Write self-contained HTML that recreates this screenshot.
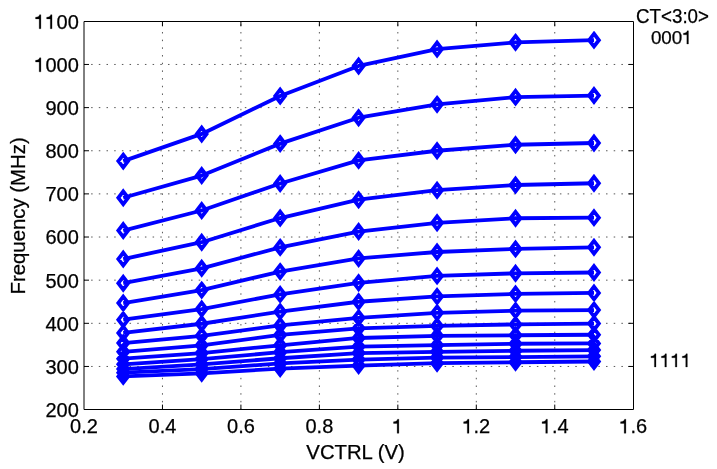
<!DOCTYPE html><html><head><meta charset="utf-8"><style>html,body{margin:0;padding:0;background:#fff;}svg{display:block;}text{font-family:"Liberation Sans",sans-serif;fill:#000;}</style></head><body>
<svg width="717" height="469" viewBox="0 0 717 469">
<rect x="0" y="0" width="717" height="469" fill="#fff"/>
<g stroke="#585858" stroke-width="1" stroke-dasharray="1.5 6.185" stroke-dashoffset="0.45" fill="none"><line x1="162.46" y1="409.60" x2="162.46" y2="21.32"/><line x1="240.92" y1="409.60" x2="240.92" y2="21.32"/><line x1="319.38" y1="409.60" x2="319.38" y2="21.32"/><line x1="397.84" y1="409.60" x2="397.84" y2="21.32"/><line x1="476.30" y1="409.60" x2="476.30" y2="21.32"/><line x1="554.76" y1="409.60" x2="554.76" y2="21.32"/></g>
<g stroke="#585858" stroke-width="1" stroke-dasharray="1.5 6.185" stroke-dashoffset="0.55" fill="none"><line x1="84.00" y1="366.46" x2="633.22" y2="366.46"/><line x1="84.00" y1="323.32" x2="633.22" y2="323.32"/><line x1="84.00" y1="280.17" x2="633.22" y2="280.17"/><line x1="84.00" y1="237.03" x2="633.22" y2="237.03"/><line x1="84.00" y1="193.89" x2="633.22" y2="193.89"/><line x1="84.00" y1="150.75" x2="633.22" y2="150.75"/><line x1="84.00" y1="107.61" x2="633.22" y2="107.61"/><line x1="84.00" y1="64.46" x2="633.22" y2="64.46"/></g>
<g fill="none" stroke="#0000ff" stroke-width="3.8" stroke-linejoin="round" stroke-linecap="butt"><polyline points="123.23,161.10 201.69,133.92 280.15,95.96 358.61,65.97 437.07,49.06 515.53,42.33 593.99,40.13"/><polyline points="123.23,197.77 201.69,175.55 280.15,143.63 358.61,117.70 437.07,104.37 515.53,97.17 593.99,95.57"/><polyline points="123.23,230.56 201.69,210.50 280.15,183.54 358.61,160.41 437.07,150.75 515.53,144.75 593.99,142.98"/><polyline points="123.23,259.03 201.69,242.21 280.15,218.05 358.61,199.67 437.07,190.22 515.53,185.00 593.99,183.23"/><polyline points="123.23,283.19 201.69,268.31 280.15,247.39 358.61,231.55 437.07,222.80 515.53,218.27 593.99,217.66"/><polyline points="123.23,303.04 201.69,290.10 280.15,271.59 358.61,258.47 437.07,252.00 515.53,248.90 593.99,247.30"/><polyline points="123.23,319.74 201.69,309.08 280.15,294.41 358.61,282.81 437.07,275.90 515.53,273.31 593.99,272.49"/><polyline points="123.23,332.94 201.69,323.75 280.15,311.67 358.61,301.75 437.07,296.44 515.53,293.89 593.99,292.90"/><polyline points="123.23,343.03 201.69,335.83 280.15,325.47 358.61,317.84 437.07,312.83 515.53,310.63 593.99,310.11"/><polyline points="123.23,351.79 201.69,345.32 280.15,334.96 358.61,328.28 437.07,325.90 515.53,324.39 593.99,323.62"/><polyline points="123.23,358.69 201.69,353.08 280.15,345.32 358.61,337.98 437.07,335.83 515.53,335.27 593.99,334.75"/><polyline points="123.23,364.30 201.69,359.12 280.15,352.22 358.61,346.61 437.07,345.15 515.53,343.77 593.99,343.38"/><polyline points="123.23,369.05 201.69,364.30 280.15,358.26 358.61,353.08 437.07,351.79 515.53,350.75 593.99,350.06"/><polyline points="123.23,372.71 201.69,369.05 280.15,363.44 358.61,359.56 437.07,357.57 515.53,357.05 593.99,356.32"/><polyline points="123.23,376.38 201.69,373.36 280.15,368.62 358.61,365.60 437.07,363.22 515.53,362.27 593.99,361.50"/></g>
<path fill="none" stroke="#0000ff" stroke-width="3.75" stroke-linejoin="miter" stroke-miterlimit="10" d="M123.23 154.73L128.13 161.10L123.23 167.48L118.33 161.10ZM201.69 127.55L206.59 133.92L201.69 140.30L196.79 133.92ZM280.15 89.58L285.05 95.96L280.15 102.33L275.25 95.96ZM358.61 59.60L363.51 65.97L358.61 72.35L353.71 65.97ZM437.07 42.69L441.97 49.06L437.07 55.44L432.17 49.06ZM515.53 35.96L520.43 42.33L515.53 48.71L510.63 42.33ZM593.99 33.76L598.89 40.13L593.99 46.51L589.09 40.13ZM123.23 191.40L128.13 197.77L123.23 204.15L118.33 197.77ZM201.69 169.18L206.59 175.55L201.69 181.93L196.79 175.55ZM280.15 137.25L285.05 143.63L280.15 150.00L275.25 143.63ZM358.61 111.33L363.51 117.70L358.61 124.08L353.71 117.70ZM437.07 98.00L441.97 104.37L437.07 110.75L432.17 104.37ZM515.53 90.79L520.43 97.17L515.53 103.54L510.63 97.17ZM593.99 89.19L598.89 95.57L593.99 101.94L589.09 95.57ZM123.23 224.19L128.13 230.56L123.23 236.94L118.33 230.56ZM201.69 204.12L206.59 210.50L201.69 216.87L196.79 210.50ZM280.15 177.16L285.05 183.54L280.15 189.91L275.25 183.54ZM358.61 154.04L363.51 160.41L358.61 166.79L353.71 160.41ZM437.07 144.37L441.97 150.75L437.07 157.12L432.17 150.75ZM515.53 138.38L520.43 144.75L515.53 151.13L510.63 144.75ZM593.99 136.61L598.89 142.98L593.99 149.36L589.09 142.98ZM123.23 252.66L128.13 259.03L123.23 265.41L118.33 259.03ZM201.69 235.83L206.59 242.21L201.69 248.58L196.79 242.21ZM280.15 211.67L285.05 218.05L280.15 224.42L275.25 218.05ZM358.61 193.30L363.51 199.67L358.61 206.05L353.71 199.67ZM437.07 183.85L441.97 190.22L437.07 196.60L432.17 190.22ZM515.53 178.63L520.43 185.00L515.53 191.38L510.63 185.00ZM593.99 176.86L598.89 183.23L593.99 189.61L589.09 183.23ZM123.23 276.82L128.13 283.19L123.23 289.57L118.33 283.19ZM201.69 261.93L206.59 268.31L201.69 274.68L196.79 268.31ZM280.15 241.01L285.05 247.39L280.15 253.76L275.25 247.39ZM358.61 225.18L363.51 231.55L358.61 237.93L353.71 231.55ZM437.07 216.42L441.97 222.80L437.07 229.17L432.17 222.80ZM515.53 211.89L520.43 218.27L515.53 224.64L510.63 218.27ZM593.99 211.29L598.89 217.66L593.99 224.04L589.09 217.66ZM123.23 296.66L128.13 303.04L123.23 309.41L118.33 303.04ZM201.69 283.72L206.59 290.10L201.69 296.47L196.79 290.10ZM280.15 265.21L285.05 271.59L280.15 277.96L275.25 271.59ZM358.61 252.10L363.51 258.47L358.61 264.85L353.71 258.47ZM437.07 245.63L441.97 252.00L437.07 258.38L432.17 252.00ZM515.53 242.52L520.43 248.90L515.53 255.27L510.63 248.90ZM593.99 240.92L598.89 247.30L593.99 253.67L589.09 247.30ZM123.23 313.36L128.13 319.74L123.23 326.11L118.33 319.74ZM201.69 302.70L206.59 309.08L201.69 315.45L196.79 309.08ZM280.15 288.04L285.05 294.41L280.15 300.79L275.25 294.41ZM358.61 276.43L363.51 282.81L358.61 289.18L353.71 282.81ZM437.07 269.53L441.97 275.90L437.07 282.28L432.17 275.90ZM515.53 266.94L520.43 273.31L515.53 279.69L510.63 273.31ZM593.99 266.12L598.89 272.49L593.99 278.87L589.09 272.49ZM123.23 326.56L128.13 332.94L123.23 339.31L118.33 332.94ZM201.69 317.37L206.59 323.75L201.69 330.12L196.79 323.75ZM280.15 305.29L285.05 311.67L280.15 318.04L275.25 311.67ZM358.61 295.37L363.51 301.75L358.61 308.12L353.71 301.75ZM437.07 290.06L441.97 296.44L437.07 302.81L432.17 296.44ZM515.53 287.52L520.43 293.89L515.53 300.27L510.63 293.89ZM593.99 286.53L598.89 292.90L593.99 299.28L589.09 292.90ZM123.23 336.66L128.13 343.03L123.23 349.41L118.33 343.03ZM201.69 329.45L206.59 335.83L201.69 342.20L196.79 335.83ZM280.15 319.10L285.05 325.47L280.15 331.85L275.25 325.47ZM358.61 311.46L363.51 317.84L358.61 324.21L353.71 317.84ZM437.07 306.46L441.97 312.83L437.07 319.21L432.17 312.83ZM515.53 304.26L520.43 310.63L515.53 317.01L510.63 310.63ZM593.99 303.74L598.89 310.11L593.99 316.49L589.09 310.11ZM123.23 345.41L128.13 351.79L123.23 358.16L118.33 351.79ZM201.69 338.94L206.59 345.32L201.69 351.69L196.79 345.32ZM280.15 328.59L285.05 334.96L280.15 341.34L275.25 334.96ZM358.61 321.90L363.51 328.28L358.61 334.65L353.71 328.28ZM437.07 319.53L441.97 325.90L437.07 332.28L432.17 325.90ZM515.53 318.02L520.43 324.39L515.53 330.77L510.63 324.39ZM593.99 317.24L598.89 323.62L593.99 329.99L589.09 323.62ZM123.23 352.32L128.13 358.69L123.23 365.07L118.33 358.69ZM201.69 346.71L206.59 353.08L201.69 359.46L196.79 353.08ZM280.15 338.94L285.05 345.32L280.15 351.69L275.25 345.32ZM358.61 331.61L363.51 337.98L358.61 344.36L353.71 337.98ZM437.07 329.45L441.97 335.83L437.07 342.20L432.17 335.83ZM515.53 328.89L520.43 335.27L515.53 341.64L510.63 335.27ZM593.99 328.37L598.89 334.75L593.99 341.12L589.09 334.75ZM123.23 357.93L128.13 364.30L123.23 370.68L118.33 364.30ZM201.69 352.75L206.59 359.12L201.69 365.50L196.79 359.12ZM280.15 345.85L285.05 352.22L280.15 358.60L275.25 352.22ZM358.61 340.24L363.51 346.61L358.61 352.99L353.71 346.61ZM437.07 338.77L441.97 345.15L437.07 351.52L432.17 345.15ZM515.53 337.39L520.43 343.77L515.53 350.14L510.63 343.77ZM593.99 337.00L598.89 343.38L593.99 349.75L589.09 343.38ZM123.23 362.67L128.13 369.05L123.23 375.42L118.33 369.05ZM201.69 357.93L206.59 364.30L201.69 370.68L196.79 364.30ZM280.15 351.89L285.05 358.26L280.15 364.64L275.25 358.26ZM358.61 346.71L363.51 353.08L358.61 359.46L353.71 353.08ZM437.07 345.41L441.97 351.79L437.07 358.16L432.17 351.79ZM515.53 344.38L520.43 350.75L515.53 357.13L510.63 350.75ZM593.99 343.69L598.89 350.06L593.99 356.44L589.09 350.06ZM123.23 366.34L128.13 372.71L123.23 379.09L118.33 372.71ZM201.69 362.67L206.59 369.05L201.69 375.42L196.79 369.05ZM280.15 357.06L285.05 363.44L280.15 369.81L275.25 363.44ZM358.61 353.18L363.51 359.56L358.61 365.93L353.71 359.56ZM437.07 351.20L441.97 357.57L437.07 363.95L432.17 357.57ZM515.53 350.68L520.43 357.05L515.53 363.43L510.63 357.05ZM593.99 349.94L598.89 356.32L593.99 362.69L589.09 356.32ZM123.23 370.01L128.13 376.38L123.23 382.76L118.33 376.38ZM201.69 366.99L206.59 373.36L201.69 379.74L196.79 373.36ZM280.15 362.24L285.05 368.62L280.15 374.99L275.25 368.62ZM358.61 359.22L363.51 365.60L358.61 371.97L353.71 365.60ZM437.07 356.85L441.97 363.22L437.07 369.60L432.17 363.22ZM515.53 355.90L520.43 362.27L515.53 368.65L510.63 362.27ZM593.99 355.12L598.89 361.50L593.99 367.87L589.09 361.50Z"/>
<g fill="none" stroke="#000" stroke-width="1"><path d="M84 21.5H633.5V409.5H84Z"/><path d="M162.46 409.6v-5.0M162.46 21.322000000000003v5.0"/><path d="M240.92 409.6v-5.0M240.92 21.322000000000003v5.0"/><path d="M319.38 409.6v-5.0M319.38 21.322000000000003v5.0"/><path d="M397.84 409.6v-5.0M397.84 21.322000000000003v5.0"/><path d="M476.30 409.6v-5.0M476.30 21.322000000000003v5.0"/><path d="M554.76 409.6v-5.0M554.76 21.322000000000003v5.0"/><path d="M84.0 366.46h5.0M633.22 366.46h-5.0"/><path d="M84.0 323.32h5.0M633.22 323.32h-5.0"/><path d="M84.0 280.17h5.0M633.22 280.17h-5.0"/><path d="M84.0 237.03h5.0M633.22 237.03h-5.0"/><path d="M84.0 193.89h5.0M633.22 193.89h-5.0"/><path d="M84.0 150.75h5.0M633.22 150.75h-5.0"/><path d="M84.0 107.61h5.0M633.22 107.61h-5.0"/><path d="M84.0 64.46h5.0M633.22 64.46h-5.0"/></g>
<g font-size="20" fill="#000" stroke="#000" stroke-width="0.25" style="filter:grayscale(1)"><text x="45.44" y="417.00" font-size="20">200</text><text x="45.44" y="373.86" font-size="20">300</text><text x="45.44" y="330.72" font-size="20">400</text><text x="45.44" y="287.57" font-size="20">500</text><text x="45.44" y="244.43" font-size="20">600</text><text x="45.44" y="201.29" font-size="20">700</text><text x="45.44" y="158.15" font-size="20">800</text><text x="45.44" y="115.01" font-size="20">900</text><path transform="translate(34.32,71.86) scale(20,-20)" stroke-width="0.0125" d="M0.33 0L0.33 0.703L0.262 0.703C0.245 0.63 0.19 0.585 0.06 0.575L0.06 0.492L0.243 0.492L0.243 0Z"/><text x="45.44" y="71.86" font-size="20">000</text><path transform="translate(34.32,28.72) scale(20,-20)" stroke-width="0.0125" d="M0.33 0L0.33 0.703L0.262 0.703C0.245 0.63 0.19 0.585 0.06 0.575L0.06 0.492L0.243 0.492L0.243 0Z"/><path transform="translate(45.44,28.72) scale(20,-20)" stroke-width="0.0125" d="M0.33 0L0.33 0.703L0.262 0.703C0.245 0.63 0.19 0.585 0.06 0.575L0.06 0.492L0.243 0.492L0.243 0Z"/><text x="56.56" y="28.72" font-size="20">00</text><text x="70.10" y="433.30" font-size="20">0.2</text><text x="148.56" y="433.30" font-size="20">0.4</text><text x="227.02" y="433.30" font-size="20">0.6</text><text x="305.48" y="433.30" font-size="20">0.8</text><path transform="translate(392.28,433.30) scale(20,-20)" stroke-width="0.0125" d="M0.33 0L0.33 0.703L0.262 0.703C0.245 0.63 0.19 0.585 0.06 0.575L0.06 0.492L0.243 0.492L0.243 0Z"/><path transform="translate(462.40,433.30) scale(20,-20)" stroke-width="0.0125" d="M0.33 0L0.33 0.703L0.262 0.703C0.245 0.63 0.19 0.585 0.06 0.575L0.06 0.492L0.243 0.492L0.243 0Z"/><text x="473.52" y="433.30" font-size="20">.2</text><path transform="translate(540.86,433.30) scale(20,-20)" stroke-width="0.0125" d="M0.33 0L0.33 0.703L0.262 0.703C0.245 0.63 0.19 0.585 0.06 0.575L0.06 0.492L0.243 0.492L0.243 0Z"/><text x="551.98" y="433.30" font-size="20">.4</text><path transform="translate(619.32,433.30) scale(20,-20)" stroke-width="0.0125" d="M0.33 0L0.33 0.703L0.262 0.703C0.245 0.63 0.19 0.585 0.06 0.575L0.06 0.492L0.243 0.492L0.243 0Z"/><text x="630.44" y="433.30" font-size="20">.6</text><text x="355.6" y="458.5" text-anchor="middle" textLength="98.5" lengthAdjust="spacingAndGlyphs">VCTRL (V)</text><text transform="translate(25.0,215.9) rotate(-90)" x="0" y="0" text-anchor="middle" textLength="157.3" lengthAdjust="spacingAndGlyphs">Frequency (MHz)</text><text x="636" y="23.1" font-size="20" textLength="73.0" lengthAdjust="spacingAndGlyphs">CT&lt;3:0&gt;</text><text x="650.90" y="44.00" font-size="18.8">000</text><path transform="translate(682.26,44.00) scale(18.8,-18.8)" stroke-width="0.0133" d="M0.33 0L0.33 0.703L0.262 0.703C0.245 0.63 0.19 0.585 0.06 0.575L0.06 0.492L0.243 0.492L0.243 0Z"/><path transform="translate(649.80,367.00) scale(18.8,-18.8)" stroke-width="0.0133" d="M0.33 0L0.33 0.703L0.262 0.703C0.245 0.63 0.19 0.585 0.06 0.575L0.06 0.492L0.243 0.492L0.243 0Z"/><path transform="translate(660.25,367.00) scale(18.8,-18.8)" stroke-width="0.0133" d="M0.33 0L0.33 0.703L0.262 0.703C0.245 0.63 0.19 0.585 0.06 0.575L0.06 0.492L0.243 0.492L0.243 0Z"/><path transform="translate(670.71,367.00) scale(18.8,-18.8)" stroke-width="0.0133" d="M0.33 0L0.33 0.703L0.262 0.703C0.245 0.63 0.19 0.585 0.06 0.575L0.06 0.492L0.243 0.492L0.243 0Z"/><path transform="translate(681.16,367.00) scale(18.8,-18.8)" stroke-width="0.0133" d="M0.33 0L0.33 0.703L0.262 0.703C0.245 0.63 0.19 0.585 0.06 0.575L0.06 0.492L0.243 0.492L0.243 0Z"/></g>
</svg></body></html>
